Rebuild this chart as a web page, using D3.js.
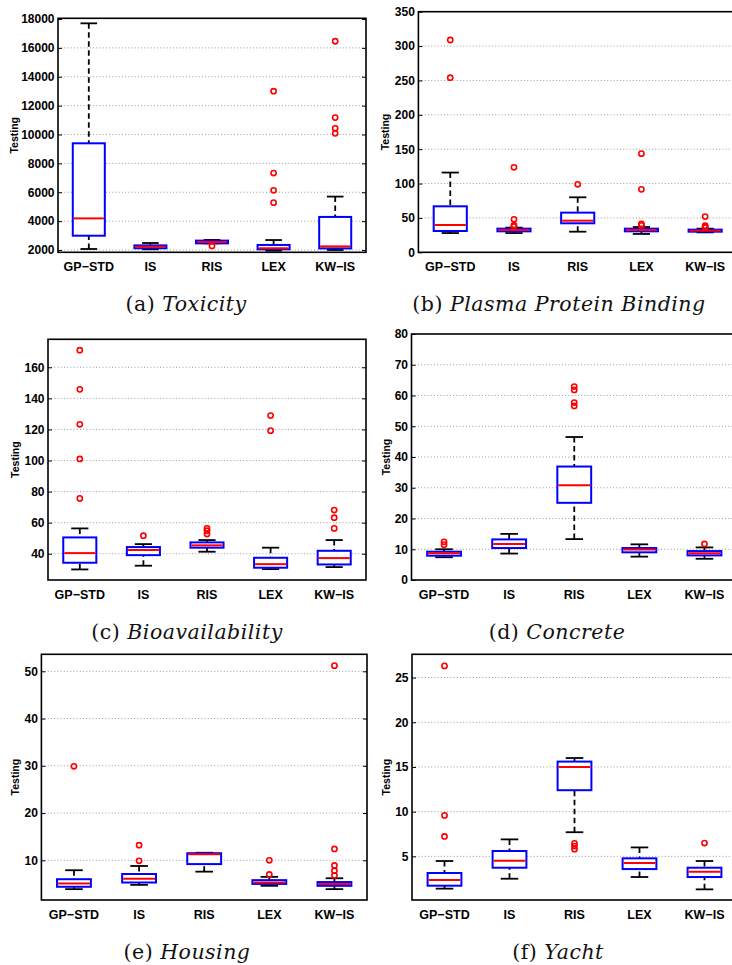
<!DOCTYPE html>
<html><head><meta charset="utf-8">
<script src="https://cdn.jsdelivr.net/npm/d3@7"></script>
<style>body{margin:0;background:#fff}svg{display:block}</style>
</head><body><svg id="chart" width="732" height="965"></svg>
<script>
const categories = ["GP\u2212STD", "IS", "RIS", "LEX", "KW\u2212IS"];

// (a) Toxicity
const toxLow  = [2070, 2050, 2460, 1950, 2000];
const toxQ1   = [2990, 2120, 2460, 2050, 2110];
const toxMed  = [4190, 2230, 2555, 2120, 2250];
const toxQ3   = [9390, 2320, 2650, 2350, 4290];
const toxHigh = [17700, 2485, 2700, 2690, 5700];
const toxOut  = [[], [], [2280], [13000, 7330, 6130, 5280], [16460, 11170, 10430, 10080]];
const toxTicks = [2000, 4000, 6000, 8000, 10000, 12000, 14000, 16000, 18000];

// (b) Plasma Protein Binding
const ppbLow  = [28, 28, 30, 26.7, 29];
const ppbQ1   = [31, 30.5, 42.2, 30.5, 30];
const ppbMed  = [39.7, 32.5, 46, 32.5, 31.5];
const ppbQ3   = [66.9, 34.4, 57.7, 34.4, 33];
const ppbHigh = [116, 35.9, 80, 36.8, 34.4];
const ppbOut  = [[308.8, 254], [123.6, 48, 39.5, 37.5], [98.9], [143.5, 91.6, 41.2, 39.3], [51.9, 38.8, 37.3, 35.9]];
const ppbTicks = [0, 50, 100, 150, 200, 250, 300, 350];

// (c) Bioavailability
const bioLow  = [29.9, 32.3, 41.3, 30.1, 31.4];
const bioQ1   = [34.2, 39.1, 43.9, 31, 33.1];
const bioMed  = [40.4, 42.4, 45.4, 33.3, 37.2];
const bioQ3   = [50.5, 44.3, 47.3, 37.4, 41.9];
const bioHigh = [56.3, 46.2, 48.8, 43.9, 48.8];
const bioOut  = [[171, 145.8, 123.3, 101, 75.6], [51.6], [56.3, 54.8, 52.7], [128.9, 119.2], [68.1, 63.2, 56.3]];
const bioTicks = [40, 60, 80, 100, 120, 140, 160];

// (d) Concrete
const conLow  = [7.4, 8.6, 13.3, 7.6, 6.9];
const conQ1   = [7.9, 10.4, 25.1, 9, 8];
const conMed  = [8.7, 11.7, 30.8, 9.9, 8.7];
const conQ3   = [9.2, 13.2, 36.9, 10.4, 9.4];
const conHigh = [10, 15, 46.5, 11.6, 10.6];
const conOut  = [[12.4, 11.5], [], [62.9, 61.8, 57.7, 56.6], [], [11.7]];
const conTicks = [0, 10, 20, 30, 40, 50, 60, 70, 80];

// (e) Housing
const houLow  = [3.9, 4.8, 7.6, 4.6, 3.9];
const houQ1   = [4.4, 5.3, 9.2, 5.0, 4.6];
const houMed  = [5.1, 6.1, 11.3, 5.3, 5.0];
const houQ3   = [6.0, 7.1, 11.5, 5.8, 5.4];
const houHigh = [7.9, 8.8, 11.6, 6.5, 6.2];
const houOut  = [[29.9], [13.2, 9.9], [], [10, 7], [51.2, 12.4, 8.9, 7.8, 6.8]];
const houTicks = [10, 20, 30, 40, 50];

// (f) Yacht
const yacLow  = [1.39, 2.5, 7.7, 2.69, 1.31];
const yacQ1   = [1.72, 3.73, 12.4, 3.58, 2.69];
const yacMed  = [2.36, 4.52, 15.0, 4.26, 3.29];
const yacQ3   = [3.14, 5.6, 15.6, 4.78, 3.73];
const yacHigh = [4.48, 6.9, 16.0, 6.0, 4.48];
const yacOut  = [[26.3, 9.58, 7.23], [], [6.45, 6.15, 5.8], [], [6.49]];
const yacTicks = [5, 10, 15, 20, 25];

const panels = [
  {label:"(a) ", name:"Toxicity", low:toxLow, q1:toxQ1, med:toxMed, q3:toxQ3, high:toxHigh, out:toxOut, ticks:toxTicks,
   domain:[1841, 18048], box:[58, 366, 18.3, 252.3], ylabX:13.5, cap:[186, 311]},
  {label:"(b) ", name:"Plasma Protein Binding", low:ppbLow, q1:ppbQ1, med:ppbMed, q3:ppbQ3, high:ppbHigh, out:ppbOut, ticks:ppbTicks,
   domain:[0, 350], box:[418.4, 737, 11.7, 252.3], ylabX:385, cap:[559, 311]},
  {label:"(c) ", name:"Bioavailability", low:bioLow, q1:bioQ1, med:bioMed, q3:bioQ3, high:bioHigh, out:bioOut, ticks:bioTicks,
   domain:[23.1, 178], box:[48, 366, 339.3, 580], ylabX:15, cap:[187, 639]},
  {label:"(d) ", name:"Concrete", low:conLow, q1:conQ1, med:conMed, q3:conQ3, high:conHigh, out:conOut, ticks:conTicks,
   domain:[0, 80], box:[411.5, 737, 334, 580], ylabX:386, cap:[557, 639]},
  {label:"(e) ", name:"Housing", low:houLow, q1:houQ1, med:houMed, q3:houQ3, high:houHigh, out:houOut, ticks:houTicks,
   domain:[1.6, 53.6], box:[41.4, 367, 654.3, 900], ylabX:15, cap:[187, 959]},
  {label:"(f) ", name:"Yacht", low:yacLow, q1:yacQ1, med:yacMed, q3:yacQ3, high:yacHigh, out:yacOut, ticks:yacTicks,
   domain:[0.12, 27.6], box:[412, 737, 654.3, 900], ylabX:385.5, cap:[558, 959]}
];

const svg = d3.select("#chart");

panels.forEach(p => {
  const [L, R, T, B] = p.box;
  const x = d3.scaleBand().domain(categories).range([L, R]).paddingInner(0).paddingOuter(0);
  const y = d3.scaleLinear().domain(p.domain).range([B, T]);
  const bw = x.bandwidth();
  const cx = c => x(c) + bw / 2;
  const g = svg.append("g");

  // grid
  g.selectAll("line.grid").data(p.ticks.filter(t => y(t) > T + 1 && y(t) < B - 1)).enter()
    .append("line").attr("x1", L).attr("x2", R).attr("y1", d => y(d)).attr("y2", d => y(d))
    .attr("stroke", "#9a9a9a").attr("stroke-width", 1).attr("stroke-dasharray", "1,2.2");

  // axes
  const ya = g.append("g").attr("transform", `translate(${L},0)`)
    .call(d3.axisLeft(y).tickValues(p.ticks).tickSize(-4).tickPadding(3.5).tickFormat(d3.format("d")));
  ya.select(".domain").remove();
  ya.selectAll("line").attr("stroke", "#000").attr("stroke-width", 1);
  ya.selectAll("text").attr("font-family", "'Liberation Sans', Arial, sans-serif")
    .attr("font-weight", "bold").attr("font-size", 12).attr("fill", "#000");
  const yr = g.append("g").attr("transform", `translate(${R},0)`)
    .call(d3.axisRight(y).tickValues(p.ticks).tickSize(-4).tickFormat(""));
  yr.select(".domain").remove();
  yr.selectAll("line").attr("stroke", "#000");

  const xa = g.append("g").attr("transform", `translate(0,${B})`)
    .call(d3.axisBottom(x).tickSize(0).tickPadding(10));
  xa.select(".domain").remove();
  xa.selectAll("text").attr("font-family", "'Liberation Sans', Arial, sans-serif")
    .attr("font-weight", "bold").attr("font-size", 12.5).attr("fill", "#000");

  // frame
  g.append("rect").attr("x", L).attr("y", T).attr("width", R - L).attr("height", B - T)
    .attr("fill", "none").attr("stroke", "#000").attr("stroke-width", 1.6);

  // y label
  g.append("text").attr("transform", `translate(${p.ylabX},${(T + B) / 2}) rotate(-90)`)
    .attr("text-anchor", "middle").attr("dominant-baseline", "central")
    .attr("font-family", "'Liberation Sans', Arial, sans-serif").attr("font-weight", "bold")
    .attr("font-size", 10.5).text("Testing");

  const rows = categories.map((c, i) => ({c, low:p.low[i], q1:p.q1[i], med:p.med[i], q3:p.q3[i], high:p.high[i], out:p.out[i]}));
  const gb = g.selectAll("g.box").data(rows).enter().append("g");

  // whiskers dashed
  gb.append("line").attr("x1", d => cx(d.c)).attr("x2", d => cx(d.c))
    .attr("y1", d => y(d.high)).attr("y2", d => y(d.q3))
    .attr("stroke", "#000").attr("stroke-width", 1.8).attr("stroke-dasharray", "5.5,3.5");
  gb.append("line").attr("x1", d => cx(d.c)).attr("x2", d => cx(d.c))
    .attr("y1", d => y(d.low)).attr("y2", d => y(d.q1))
    .attr("stroke", "#000").attr("stroke-width", 1.8).attr("stroke-dasharray", "5.5,3.5");
  // caps
  ["high", "low"].forEach(k => {
    gb.append("line").attr("x1", d => cx(d.c) - bw * 0.135).attr("x2", d => cx(d.c) + bw * 0.135)
      .attr("y1", d => y(d[k])).attr("y2", d => y(d[k]))
      .attr("stroke", "#000").attr("stroke-width", 1.8);
  });
  // box
  gb.append("rect").attr("x", d => cx(d.c) - bw * 0.26).attr("width", bw * 0.52)
    .attr("y", d => y(d.q3)).attr("height", d => Math.max(0.5, y(d.q1) - y(d.q3)))
    .attr("fill", "#fff").attr("stroke", "#0000ff").attr("stroke-width", 2);
  // median
  gb.append("line").attr("x1", d => cx(d.c) - bw * 0.26 + 1).attr("x2", d => cx(d.c) + bw * 0.26 - 1)
    .attr("y1", d => y(d.med)).attr("y2", d => y(d.med))
    .attr("stroke", "#ff0000").attr("stroke-width", 2);
  // outliers
  gb.each(function(d) {
    d3.select(this).selectAll("circle").data(d.out).enter().append("circle")
      .attr("cx", cx(d.c)).attr("cy", v => y(v)).attr("r", 2.6)
      .attr("fill", "none").attr("stroke", "#ff0000").attr("stroke-width", 1.6);
  });

  // caption
  const t = svg.append("text").attr("x", p.cap[0]).attr("y", p.cap[1]).attr("text-anchor", "middle")
    .attr("font-family", "'DejaVu Serif', serif").attr("font-size", 20.5).attr("letter-spacing", 0.5)
    .attr("fill", "#111");
  t.append("tspan").text(p.label);
  t.append("tspan").attr("font-style", "italic").text(p.name);
});
</script></body></html>
